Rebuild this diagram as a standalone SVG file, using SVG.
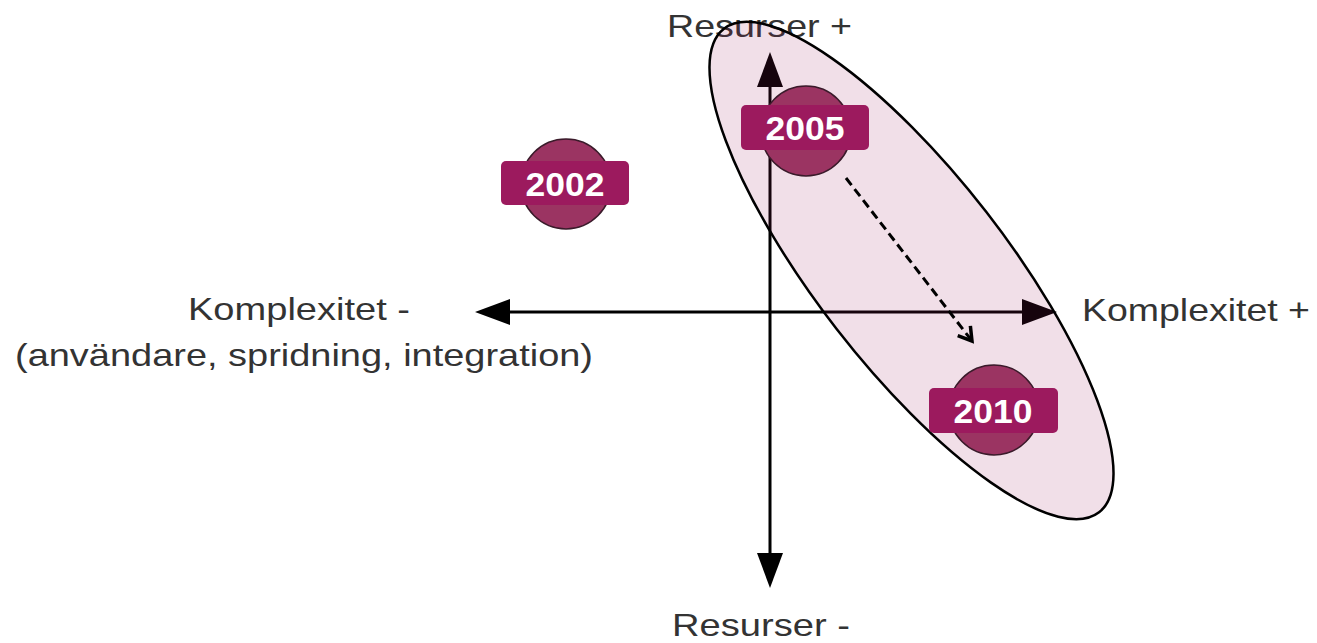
<svg xmlns="http://www.w3.org/2000/svg" width="1317" height="643" viewBox="0 0 1317 643">
<defs>
<style>
.lbl{font-family:"Liberation Sans",Arial,sans-serif;font-size:32px;fill:#333}
.yr{font-family:"Liberation Sans",Arial,sans-serif;font-size:34px;font-weight:bold;fill:#fff}
.axis{stroke:#000;stroke-width:3;fill:none}
.circ{fill:#9b3462;stroke:#3a1a2a;stroke-width:1.5}
.tag{fill:#9c1a5e}
</style>
<marker id="open" viewBox="0 0 20 20" refX="16" refY="10" markerWidth="20" markerHeight="20" markerUnits="userSpaceOnUse" orient="auto">
<polyline points="3,2 16,10 3,18" fill="none" stroke="#000" stroke-width="3.5" stroke-linejoin="miter"/>
</marker>
</defs>
<rect width="1317" height="643" fill="#fff"/>
<g id="labels">
<text class="lbl" x="667" y="37" textLength="185" lengthAdjust="spacingAndGlyphs">Resurser +</text>
<text class="lbl" x="672" y="636" textLength="178" lengthAdjust="spacingAndGlyphs">Resurser -</text>
<text class="lbl" x="188" y="320" textLength="222" lengthAdjust="spacingAndGlyphs">Komplexitet -</text>
<text class="lbl" x="15" y="366" textLength="578" lengthAdjust="spacingAndGlyphs">(användare, spridning, integration)</text>
<text class="lbl" x="1082" y="321" textLength="228" lengthAdjust="spacingAndGlyphs">Komplexitet +</text>
</g>
<g id="axes">
<line class="axis" x1="508" y1="312" x2="1024" y2="312"/>
<polygon points="475,312 510,299 510,325" fill="#000"/>
<polygon points="1057,312 1022,299 1022,325" fill="#000"/>
<line class="axis" x1="770" y1="86" x2="770" y2="555"/>
<polygon points="770,52 757,87 783,87" fill="#000"/>
<polygon points="770,588 757,553 783,553" fill="#000"/>
</g>
<g id="region">
<ellipse cx="911.5" cy="270.5" rx="306" ry="95" transform="rotate(52.2 911.5 270.5)" fill="#9c1a5e" fill-opacity="0.14" stroke="#000" stroke-width="2.5"/>
</g>
<g id="connectors">
<line x1="846" y1="178" x2="972" y2="341" stroke="#000" stroke-width="3" stroke-dasharray="9,5" marker-end="url(#open)"/>
</g>
<g id="n2002">
<circle class="circ" cx="566" cy="184" r="45"/>
<rect class="tag" x="501" y="161" width="128" height="44" rx="5"/>
<text class="yr" x="565" y="196" text-anchor="middle" textLength="79" lengthAdjust="spacingAndGlyphs">2002</text>
</g>
<g id="n2005">
<circle class="circ" cx="806" cy="131" r="45"/>
<rect class="tag" x="741" y="105" width="128" height="45" rx="5"/>
<text class="yr" x="805" y="140" text-anchor="middle" textLength="79" lengthAdjust="spacingAndGlyphs">2005</text>
</g>
<g id="n2010">
<circle class="circ" cx="994" cy="410" r="45"/>
<rect class="tag" x="929" y="388" width="129" height="45" rx="5"/>
<text class="yr" x="993" y="423" text-anchor="middle" textLength="79" lengthAdjust="spacingAndGlyphs">2010</text>
</g>
</svg>
